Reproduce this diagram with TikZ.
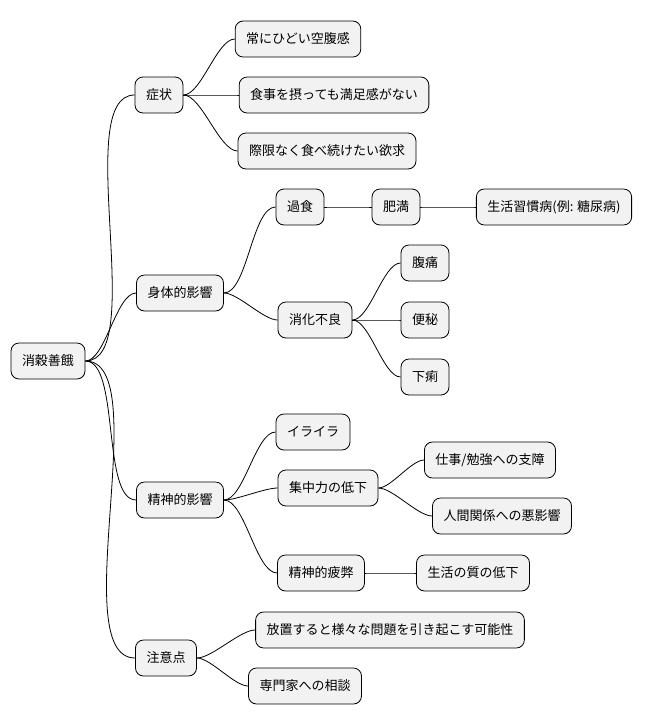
\documentclass[tikz,border=0pt]{standalone}
\usepackage{fontspec}
\newfontfamily\cjk{Noto Sans CJK JP}
\usetikzlibrary{positioning}
\def\mindnodes{48/361/root/消穀善餓,
  159/95/sym/症状, 298/39/symA/常にひどい空腹感,
  334/95/symB/食事を摂っても満足感がない, 327/151/symC/際限なく食べ続けたい欲求,
  180/293/body/身体的影響, 300/207/over/過食, 396/207/fat/肥満,
  554/207/life/{生活習慣病(例: 糖尿病)}, 315/320/dig/消化不良,
  425/263/digA/腹痛, 425/320/digB/便秘, 425/377/digC/下痢,
  180/500/mind/精神的影響, 313/432/irr/イライラ, 328/488/conc/集中力の低下,
  490/460/concA/{仕事/勉強への支障}, 502/516/concB/人間関係への悪影響,
  321/573/tired/精神的疲弊, 473/573/qol/生活の質の低下,
  166/658/note/注意点, 390/630/noteA/放置すると様々な問題を引き起こす可能性,
  305/686/noteB/専門家への相談}
\def\mindedges{root/sym, root/body, root/mind, root/note,
  sym/symA, sym/symB, sym/symC, body/over, body/dig, over/fat, fat/life,
  dig/digA, dig/digB, dig/digC, mind/irr, mind/conc, mind/tired,
  conc/concA, conc/concB, tired/qol, note/noteA, note/noteB}
\begin{document}
\begin{tikzpicture}[x=1pt,y=-1pt,
    mindbox/.style={draw, rounded corners=8pt, fill=gray!10, line width=0.8pt,
      inner xsep=11pt, minimum height=36pt, font=\cjk\fontsize{13}{15}\selectfont},
    branch/.style={line width=0.8pt, out=0, in=180, looseness=0.6}]
  \fill[white] (0,0) rectangle (649,724);
  \useasboundingbox (0,0) rectangle (649,724);
  \foreach \x/\y/\n/\t in \mindnodes {%
    \node[mindbox] (\n) at (\x,\y) {\t};
  }
  \foreach \a/\b in \mindedges {%
    \draw[branch] (\a.east) to (\b.west);
  }
\end{tikzpicture}
\end{document}
